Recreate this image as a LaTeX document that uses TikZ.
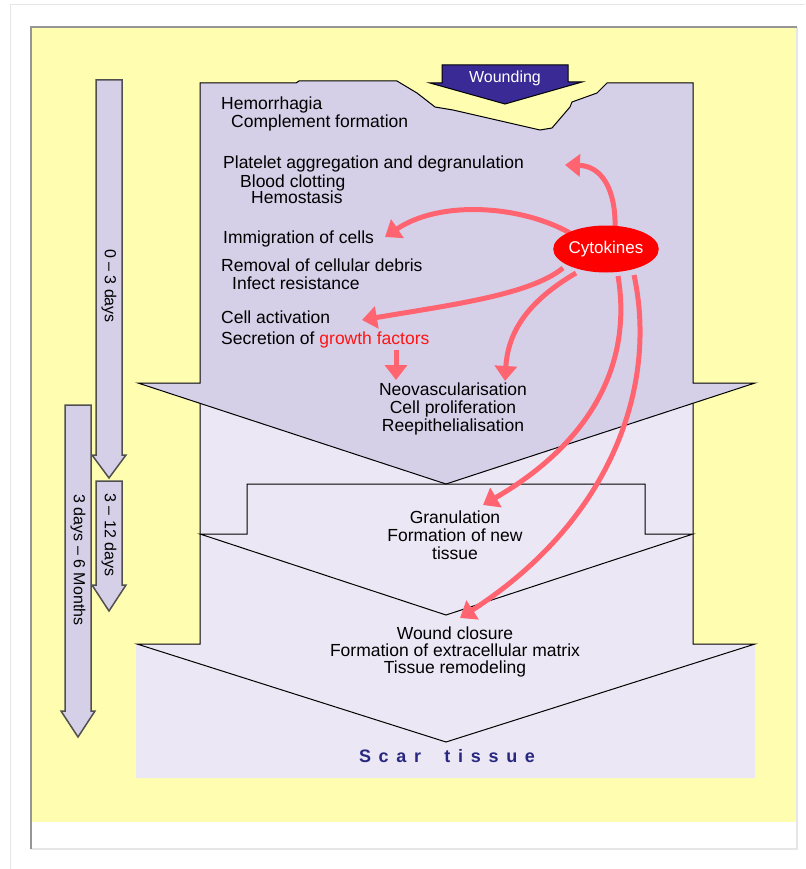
\documentclass[tikz,border=0pt]{standalone}
\usepackage{fontspec}
\setmainfont{Liberation Sans}
\usetikzlibrary{arrows.meta,shapes.geometric}
\definecolor{bgyellow}{RGB}{255,253,176}
\definecolor{lavdark}{RGB}{213,208,231}
\definecolor{lavlight}{RGB}{236,231,244}
\definecolor{woundblue}{RGB}{58,42,150}
\definecolor{salmon}{RGB}{255,100,112}
\definecolor{scarblue}{RGB}{40,40,128}
\definecolor{framegray}{RGB}{150,150,150}
\definecolor{palegray}{RGB}{230,230,230}
\definecolor{timeedge}{RGB}{80,80,80}
\definecolor{growthred}{RGB}{255,20,20}
\begin{document}
\begin{tikzpicture}[x=1pt,y=-1pt,
  txt/.style={font=\fontsize{17.5}{18}\selectfont, inner sep=0pt, anchor=base west},
  ctxt/.style={font=\fontsize{17.5}{18}\selectfont, inner sep=0pt, anchor=base},
  outl/.style={draw=black, line width=1pt},
  timearrow/.style={fill=lavdark, draw=timeedge, line width=1.5pt},
  timelabel/.style={font=\fontsize{16}{17}\selectfont, inner sep=0pt, rotate=-90},
  redarrow/.style={draw=salmon, line width=5pt, -{Triangle[length=15pt,width=22pt]}}]
\useasboundingbox (0,0) rectangle (805,869);
\fill[white] (0,0) rectangle (805,869);
% outer frame
\draw[palegray, line width=1pt] (10,869) -- (10,5) -- (805,5);
\fill[bgyellow] (32,28) rectangle (796,822);
\draw[palegray, line width=1.5pt] (31,849) -- (797,849) -- (797,27);
\draw[framegray, line width=1.5pt] (31,849) -- (31,27) -- (797,27);
% lower stages background
\fill[lavlight] (200,383) -- (693,383) -- (693,644) -- (755,644) -- (755,778) -- (136,778) -- (136,644) -- (200,644) -- cycle;
\draw[outl] (200,383) -- (200,644) -- (137,644) -- (446,742) -- (755,644) -- (693,644) -- (693,383);
% stage 2
\draw[outl, fill=lavlight] (247,484) -- (645,484) -- (645,534) -- (693,534) -- (446,615) -- (200,534) -- (247,534) -- cycle;
% stage 1
\draw[outl, fill=lavdark] (200,83) -- (296,83) -- (299,81) -- (397,81) -- (417,93) -- (435,107) -- (453,110) -- (540,130) -- (552,128) -- (570,107) -- (572,102) -- (597,93) -- (607,83) -- (693,83) -- (693,383) -- (755,383) -- (446,484) -- (138,383) -- (200,383) -- cycle;
% wounding arrow
\draw[line width=1pt, fill=woundblue] (442,65) -- (568,65) -- (568,82) -- (582,82) -- (505,104) -- (430,83) -- (442,83) -- cycle;
\node[font=\fontsize{16}{17}\selectfont, text=white, inner sep=0pt] (wound) at (505,78) {Wounding};
% time arrows
\draw[timearrow] (96,80) -- (122,80) -- (122,455) -- (126,455) -- (109,478) -- (92,455) -- (96,455) -- cycle;
\draw[timearrow] (96,481) -- (122,481) -- (122,585) -- (126,585) -- (109,611) -- (92,585) -- (96,585) -- cycle;
\draw[timearrow] (65,405) -- (91,405) -- (91,711) -- (95,711) -- (78,737) -- (61,711) -- (65,711) -- cycle;
\node[timelabel] (d1) at (109,286) {0 -- 3 days};
\node[timelabel] (d2) at (109,535) {3 -- 12 days};
\node[timelabel] (d3) at (78,560) {3 days -- 6 Months};
% texts
\node[txt] (hem) at (221,110) {Hemorrhagia};
\node[txt] (comp) at (231,128) {Complement formation};
\node[txt] (plat) at (223,168) {Platelet aggregation and degranulation};
\node[txt] (blood) at (240,187) {Blood clotting};
\node[txt] (hemo) at (251,204) {Hemostasis};
\node[txt] (immi) at (223,243) {Immigration of cells};
\node[txt] (remo) at (221,271) {Removal of cellular debris};
\node[txt] (infe) at (232,289) {Infect resistance};
\node[txt] (cact) at (221,323) {Cell activation};
\node[txt] (secr) at (221,344) {Secretion of \textcolor{growthred}{growth factors}};
\node[ctxt] (neo) at (453,395) {Neovascularisation};
\node[ctxt] (prol) at (453,413) {Cell proliferation};
\node[ctxt] (reep) at (453,431) {Reepithelialisation};
\node[ctxt] (gran) at (455,523) {Granulation};
\node[ctxt] (fnew) at (455,541) {Formation of new};
\node[ctxt] (tiss) at (455,559) {tissue};
\node[ctxt] (wclo) at (455,639) {Wound closure};
\node[ctxt] (fext) at (455,656) {Formation of extracellular matrix};
\node[ctxt] (trem) at (455,673) {Tissue remodeling};
\node[anchor=base, inner sep=0pt, text=scarblue, font=\bfseries\fontsize{18}{19}\selectfont] (scar) at (447,762)
  {\makebox[176pt][s]{S\hfil c\hfil a\hfil r\hfil\hfil\hfil t\hfil i\hfil s\hfil s\hfil u\hfil e}};
% cytokine arrows
\coordinate (sa) at (615,228);
\coordinate (sb) at (570,233);
\coordinate (sc) at (563,268);
\coordinate (sd) at (576,273);
\coordinate (se) at (618,276);
\coordinate (sf) at (634,275);
\coordinate (ta) at (565,165);
\coordinate (tb) at (385,237);
\coordinate (tc) at (362,320);
\coordinate (td) at (505,381);
\coordinate (te) at (483,505);
\coordinate (tf) at (460,618);
\coordinate (gs) at (396,350);
\coordinate (gt) at (396,380);
\draw[redarrow] (sa) .. controls (616,190) and (602,166) .. (ta);
\draw[redarrow] (sb) .. controls (520,205) and (440,200) .. (tb);
\draw[redarrow] (sc) .. controls (530,295) and (450,305) .. (tc);
\draw[redarrow] (sd) .. controls (530,300) and (508,330) .. (td);
\draw[redarrow] (se) .. controls (632,360) and (595,440) .. (te);
\draw[redarrow] (sf) .. controls (658,385) and (612,520) .. (tf);
\draw[redarrow] (gs) -- (gt);
\node[ellipse, fill=red, minimum width=102pt, minimum height=47pt, inner sep=0pt,
  text=white, font=\fontsize{17}{18}\selectfont] (cyt) at (606,249) {Cytokines};
\end{tikzpicture}
\end{document}
